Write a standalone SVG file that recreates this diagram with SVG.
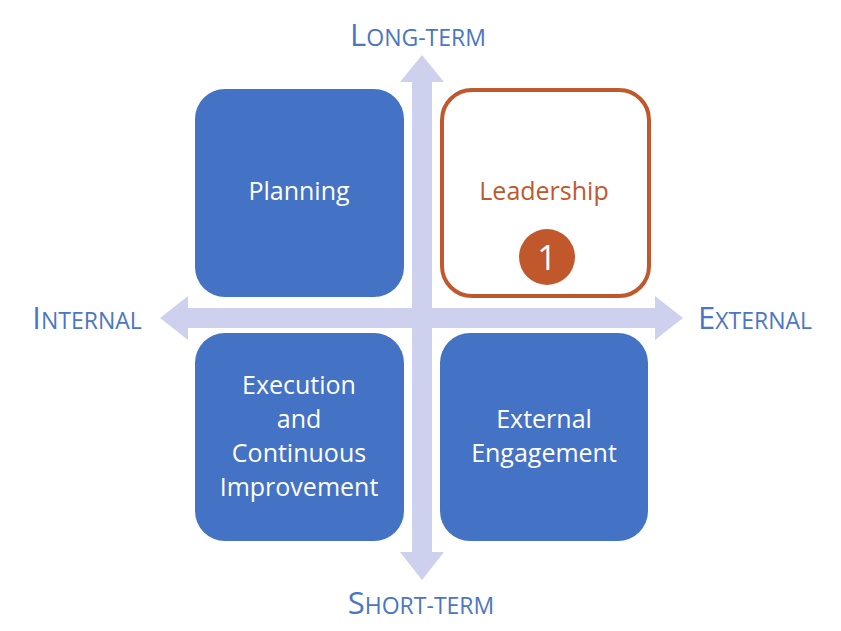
<svg xmlns="http://www.w3.org/2000/svg" width="841" height="631" viewBox="0 0 841 631">
<style>
.box{fill:#4472c4}
.t{font-family:"Open Sans","Liberation Sans",sans-serif;font-size:25px;fill:#fff;text-anchor:middle}
.ax{font-family:"Open Sans","Liberation Sans",sans-serif;fill:#4a76c4;text-anchor:middle;font-size:23px}
.big{font-size:31px}
</style>
<rect width="841" height="631" fill="#fff"/>
<g id="connectors" fill="#cdd1ee">
<polygon points="422,55 444,82 432,82 432,552 444,552 422,580 400,552 412,552 412,82 400,82"/>
<polygon points="160,318 188,296 188,308 655,308 655,296 683,318 655,340 655,328 188,328 188,340"/>
</g>
<g id="planning"><rect class="box" x="195" y="89" width="209" height="208" rx="30"/><text class="t" x="299" y="200">Planning</text></g>
<g id="leadership"><rect x="442" y="90" width="207" height="206" rx="30" fill="#fff" stroke="#c0582b" stroke-width="4"/><text class="t" x="544" y="200" style="fill:#c0582b">Leadership</text>
<circle cx="547" cy="257" r="28" fill="#c0582b"/><text class="t" x="547" y="270" style="font-size:34px">1</text></g>
<g id="execution"><rect class="box" x="195" y="333" width="209" height="208" rx="30"/>
<text class="t" x="299" y="394">Execution</text><text class="t" x="299" y="428">and</text><text class="t" x="299" y="462">Continuous</text><text class="t" x="299" y="496">Improvement</text></g>
<g id="external"><rect class="box" x="440" y="333" width="208" height="208" rx="30"/>
<text class="t" x="544" y="428">External</text><text class="t" x="544" y="462">Engagement</text></g>
<g id="labels">
<text class="ax" x="418" y="46"><tspan class="big">L</tspan>ONG-TERM</text>
<text class="ax" x="421" y="614"><tspan class="big">S</tspan>HORT-TERM</text>
<text class="ax" x="87" y="329"><tspan class="big">I</tspan>NTERNAL</text>
<text class="ax" x="755" y="329"><tspan class="big">E</tspan>XTERNAL</text>
</g>
</svg>
